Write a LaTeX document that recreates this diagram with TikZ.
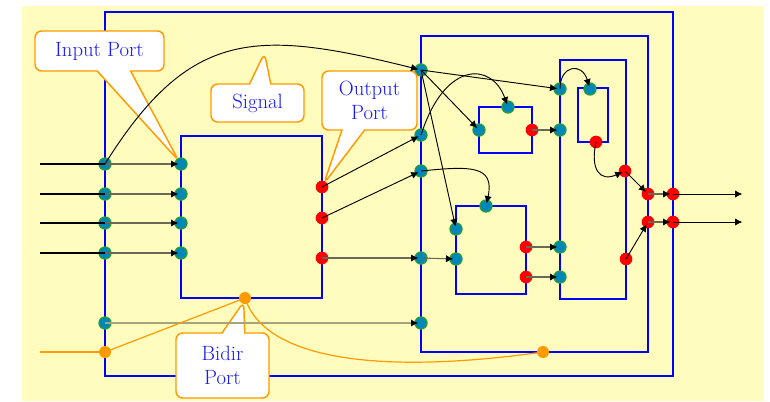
\documentclass[tikz,border=0pt]{standalone}
\usepackage{tikz}
\usetikzlibrary{arrows.meta,shapes.callouts}
\definecolor{bgYellow}{RGB}{255,252,190}
\definecolor{boxBlue}{RGB}{0,0,255}
\definecolor{portTeal}{RGB}{0,135,185}
\definecolor{portRim}{RGB}{40,155,60}
\definecolor{portRed}{RGB}{255,0,0}
\definecolor{bidirOrange}{RGB}{255,155,0}
\definecolor{wireGray}{RGB}{105,105,85}
\definecolor{busGray}{RGB}{165,165,125}
\definecolor{labelBlue}{RGB}{25,25,240}

\begin{document}
\begin{tikzpicture}[x=0.75pt, y=-0.75pt,
  blk/.style={draw=boxBlue, line width=2.2pt},
  inport/.style={circle, fill=portTeal, draw=portRim, line width=1pt, inner sep=0pt, minimum size=9pt},
  outport/.style={circle, fill=portRed, inner sep=0pt, minimum size=9.5pt},
  ioport/.style={circle, fill=bidirOrange, inner sep=0pt, minimum size=9pt},
  tip/.style={-{Latex[length=5.5pt,width=5.5pt,color=black]}, shorten >=2pt},
  wire/.style={tip, draw=wireGray, line width=0.8pt},
  feed/.style={draw=black, line width=0.8pt},
  curvy/.style={tip, draw=black, line width=0.7pt},
  bus/.style={tip, draw=busGray, line width=1.8pt},
  bidir/.style={draw=bidirOrange, line width=0.9pt},
  portnote/.style={rectangle callout, draw=bidirOrange, line width=1.1pt, fill=white,
    rounded corners=5pt, text=labelBlue, align=center, inner sep=0pt,
    callout pointer shorten=3pt, font=\fontsize{15.5}{18}\selectfont}]
\useasboundingbox (0,0) rectangle (770,401);
\fill[bgYellow] (22,6) rectangle (764,401);

% blocks
\draw[blk] (105,12) rectangle (673,376);
\draw[blk] (181,136) rectangle (322,298);
\draw[blk] (421,36) rectangle (648,352);
\draw[blk] (479,107) rectangle (532,153);
\draw[blk] (456,206) rectangle (526,294);
\draw[blk] (560,60) rectangle (626,299);
\draw[blk] (578,88) rectangle (608,142);

% ports
\node[inport] (oi1) at (105,164) {};
\node[inport] (oi2) at (105,194) {};
\node[inport] (oi3) at (105,223) {};
\node[inport] (oi4) at (105,253) {};
\node[inport] (oi5) at (105,323) {};
\node[ioport] (ob1) at (105,352) {};
\node[outport] (oo1) at (673,194) {};
\node[outport] (oo2) at (673,222) {};
\node[inport] (ai1) at (181,164) {};
\node[inport] (ai2) at (181,194) {};
\node[inport] (ai3) at (181,223) {};
\node[inport] (ai4) at (181,253) {};
\node[outport] (ao1) at (322,187) {};
\node[outport] (ao2) at (322,218) {};
\node[outport] (ao3) at (322,258) {};
\node[ioport] (ab) at (245,298) {};
\node[inport] (bi1) at (421,70) {};
\node[inport] (bi2) at (421,135) {};
\node[inport] (bi3) at (421,171) {};
\node[inport] (bi4) at (421,258) {};
\node[inport] (bi5) at (421,323) {};
\node[outport] (bo1) at (648,194) {};
\node[outport] (bo2) at (648,222) {};
\node[ioport] (bb) at (543,352) {};
\node[inport] (di1) at (508,107) {};
\node[inport] (di2) at (479,130) {};
\node[outport] (do1) at (532,130) {};
\node[inport] (ei1) at (486,206) {};
\node[inport] (ei2) at (456,229) {};
\node[inport] (ei3) at (456,259) {};
\node[outport] (eo1) at (526,247) {};
\node[outport] (eo2) at (526,277) {};
\node[inport] (ci1) at (560,89) {};
\node[inport] (ci2) at (560,130) {};
\node[inport] (ci3) at (560,247) {};
\node[inport] (ci4) at (560,277) {};
\node[outport] (co1) at (625,171) {};
\node[outport] (co2) at (626,259) {};
\node[inport] (fi1) at (590,89) {};
\node[outport] (fo1) at (596,142) {};

% labels
\node[portnote, minimum width=96.75pt, minimum height=30pt, callout pointer width=25pt,
  callout absolute pointer={(ai1.center)}] (lblIn) at (99.5,51) {Input Port};
\node[portnote, minimum width=69.75pt, minimum height=28.5pt, callout pointer width=16pt,
  callout absolute pointer={(265,49)}] (lblSig) at (257.5,103) {Signal};
\node[portnote, minimum width=71.25pt, minimum height=44.25pt, callout pointer width=17pt,
  callout absolute pointer={(ao1.center)}] (lblOut) at (369.5,100.5) {Output\\Port};
\node[portnote, minimum width=69.75pt, minimum height=48.75pt, callout pointer width=17pt,
  callout absolute pointer={(ab.center)}] (lblBi) at (222.5,365.5) {Bidir\\Port};

% connections
\coordinate (src1) at (40,164);
\coordinate (src2) at (40,194);
\coordinate (src3) at (40,223);
\coordinate (src4) at (40,253);
\coordinate (srcB) at (40,352);
\coordinate (snk1) at (745,194);
\coordinate (snk2) at (745,222);
\draw[feed] (src1) -- (oi1.center);
\draw[feed] (src2) -- (oi2.center);
\draw[feed] (src3) -- (oi3.center);
\draw[feed] (src4) -- (oi4.center);
\draw[wire] (oi1.center) -- (ai1.center);
\draw[wire] (oi2.center) -- (ai2.center);
\draw[wire] (oi3.center) -- (ai3.center);
\draw[wire] (oi4.center) -- (ai4.center);
\draw[bus] (oi5.center) -- (bi5.center);
\draw[curvy] (oi1.center) .. controls (190,28) and (256,29) .. (bi1.center);
\draw[curvy] (bi1.center) -- (ci1.center);
\draw[curvy] (bi1.center) -- (di2.center);
\draw[curvy] (bi1.center) -- (ei2.center);
\draw[curvy] (ao1.center) -- (bi2.center);
\draw[curvy] (ao2.center) -- (bi3.center);
\draw[wire] (ao3.center) -- (bi4.center);
\draw[wire] (bi4.center) -- (ei3.center);
\draw[curvy] (bi2.center) .. controls (445,60) and (492,62) .. (di1.center);
\draw[curvy] (bi3.center) .. controls (470,166) and (495,165) .. (ei1.center);
\draw[wire] (do1.center) -- (ci2.center);
\draw[wire] (eo1.center) -- (ci3.center);
\draw[wire] (eo2.center) -- (ci4.center);
\draw[curvy] (ci1.center) .. controls (560,65) and (582,62) .. (fi1.center);
\draw[curvy] (fo1.center) .. controls (590,170) and (600,182) .. (co1.center);
\draw[curvy] (co1.center) -- (bo1.center);
\draw[curvy] (co2.center) -- (bo2.center);
\draw[wire] (bo1.center) -- (oo1.center);
\draw[wire] (bo2.center) -- (oo2.center);
\draw[curvy] (oo1.center) -- (snk1);
\draw[curvy] (oo2.center) -- (snk2);
\draw[bidir] (srcB) -- (ob1.center);
\draw[bidir] (ob1.center) -- (ab.center);
\draw[bidir] (ab.center) .. controls (265,360) and (380,375) .. (bb.center);
\end{tikzpicture}
\end{document}
